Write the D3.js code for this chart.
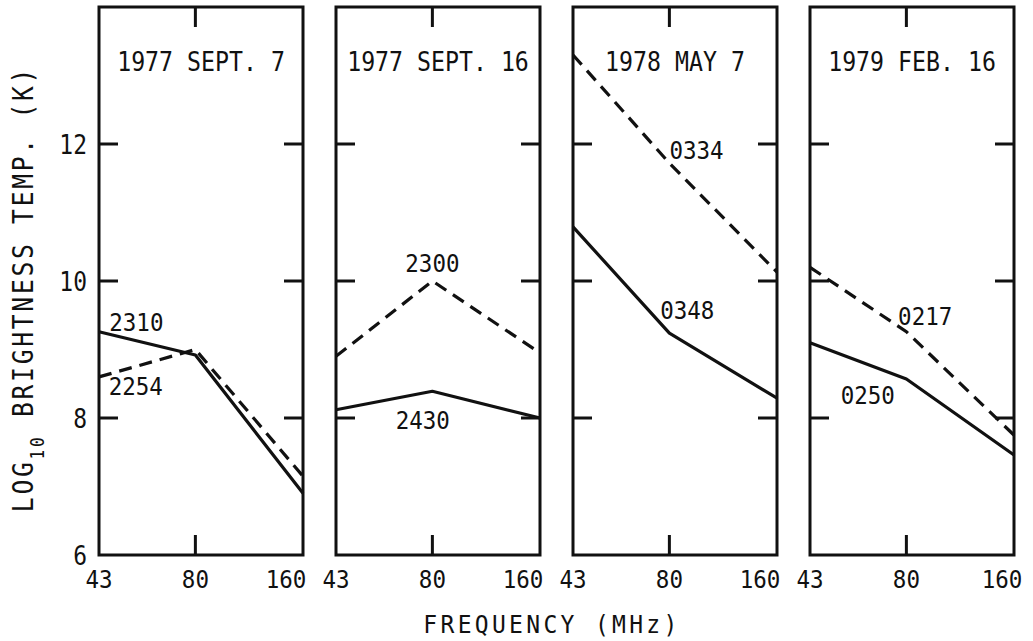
<!DOCTYPE html>
<html>
<head>
<meta charset="utf-8">
<script src="https://cdn.jsdelivr.net/npm/d3@7"></script>
<style>
  body { margin: 0; background: #fff; }
  svg { display: block; }
  text { font-family: "DejaVu Sans Mono", monospace; fill: #111; }
</style>
</head>
<body>
<script>
// data: log10 brightness temperature at 43, 80, 160 MHz
var freqs = [43, 80, 160];
var panelTitles = ["1977 SEPT. 7", "1977 SEPT. 16", "1978 MAY 7", "1979 FEB. 16"];
var solidTimes = ["2310", "2430", "0348", "0250"];
var solidValues = [
    [9.26, 8.92, 6.90],
    [8.12, 8.39, 8.00],
    [10.79, 9.24, 8.29],
    [9.10, 8.57, 7.46]
];
var dashedTimes = ["2254", "2300", "0334", "0217"];
var dashedValues = [
    [8.60, 9.00, 7.15],
    [8.90, 10.00, 8.95],
    [13.30, 11.72, 10.13],
    [10.20, 9.26, 7.75]
];
var yTickValues = [6, 8, 10, 12];
var xTickValues = [43, 80, 160];

// where the time labels sit, in (MHz, log10 T) units
var solidLabelAt = [[54.7, 9.40], [75.2, 7.97], [89.8, 9.58], [62.4, 8.34]];
var dashedLabelAt = [[54.5, 8.47], [80, 10.26], [95.3, 11.91], [90.3, 9.49]];

var width = 1033, height = 641;
var panelW = 204, panelStep = 237, firstLeft = 99;
var top_y = 7, bottom_y = 555;

var svg = d3.select("body").append("svg")
    .attr("width", width)
    .attr("height", height);

var y = d3.scaleLinear().domain([6, 14]).range([bottom_y, top_y]);

// squeezed text, the original lettering is narrow
function txt(g, x, yy, s, size, anchor, sx) {
    return g.append("text")
        .attr("transform", "translate(" + x + "," + yy + ") scale(" + sx + ",1)")
        .attr("text-anchor", anchor)
        .style("font-size", size + "px")
        .text(s);
}

var line = d3.line();

panelTitles.forEach(function (title, i) {
    var left = firstLeft + i * panelStep;
    var x = d3.scaleLog().domain([43, 160]).range([left, left + panelW]);
    var g = svg.append("g").attr("class", "panel");

    line.x(function (d, j) { return x(freqs[j]); })
        .y(function (d) { return y(d); });

    // data lines
    g.append("path")
        .attr("d", line(solidValues[i]))
        .attr("fill", "none").attr("stroke", "#111")
        .attr("stroke-width", 3.2).attr("stroke-linejoin", "round");
    g.append("path")
        .attr("d", line(dashedValues[i]))
        .attr("fill", "none").attr("stroke", "#111")
        .attr("stroke-width", 3.2).attr("stroke-dasharray", "13,8");

    // frame
    g.append("rect")
        .attr("x", left).attr("y", top_y)
        .attr("width", panelW).attr("height", bottom_y - top_y)
        .attr("fill", "none").attr("stroke", "#111").attr("stroke-width", 3);

    // inner ticks
    yTickValues.filter(function (v) { return v > 6; }).forEach(function (v) {
        g.append("line").attr("x1", left).attr("x2", left + 19)
            .attr("y1", y(v)).attr("y2", y(v))
            .attr("stroke", "#111").attr("stroke-width", 3);
        g.append("line").attr("x1", left + panelW - 19).attr("x2", left + panelW)
            .attr("y1", y(v)).attr("y2", y(v))
            .attr("stroke", "#111").attr("stroke-width", 3);
    });
    [top_y, bottom_y].forEach(function (yy, k) {
        g.append("line").attr("x1", x(80)).attr("x2", x(80))
            .attr("y1", yy).attr("y2", k === 0 ? yy + 20 : yy - 20)
            .attr("stroke", "#111").attr("stroke-width", 3);
    });

    // x tick labels
    xTickValues.forEach(function (f) {
        var px = x(f);
        if (f === 160) px = left + panelW - (i === panelTitles.length - 1 ? 12 : 17);
        txt(g, px, 588, String(f), 25, "middle", 0.9);
    });

    // title
    txt(g, left + panelW / 2, 71, title, 27, "middle", 0.86);

    // time labels
    txt(g, x(solidLabelAt[i][0]), y(solidLabelAt[i][1]) + 9, solidTimes[i], 25, "middle", 0.9);
    txt(g, x(dashedLabelAt[i][0]), y(dashedLabelAt[i][1]) + 9, dashedTimes[i], 25, "middle", 0.9);
});

// y tick labels, only on the first panel
yTickValues.forEach(function (v) {
    txt(svg, 87, y(v) + 10, String(v), 27, "end", 0.85);
});

// axis titles
svg.append("text")
    .attr("transform", "translate(552,633) scale(0.92,1)")
    .attr("text-anchor", "middle")
    .style("font-size", "25px")
    .style("letter-spacing", "3.6px")
    .text("FREQUENCY (MHz)");

var ylab = svg.append("text")
    .attr("transform", "translate(33,289) rotate(-90) scale(0.85,1)")
    .attr("text-anchor", "middle")
    .style("font-size", "29px")
    .style("letter-spacing", "3.2px");
ylab.append("tspan").text("LOG");
ylab.append("tspan").attr("dy", 11).style("font-size", "19px").text("10");
ylab.append("tspan").attr("dy", -11).text(" BRIGHTNESS TEMP. (K)");
</script>
</body>
</html>
